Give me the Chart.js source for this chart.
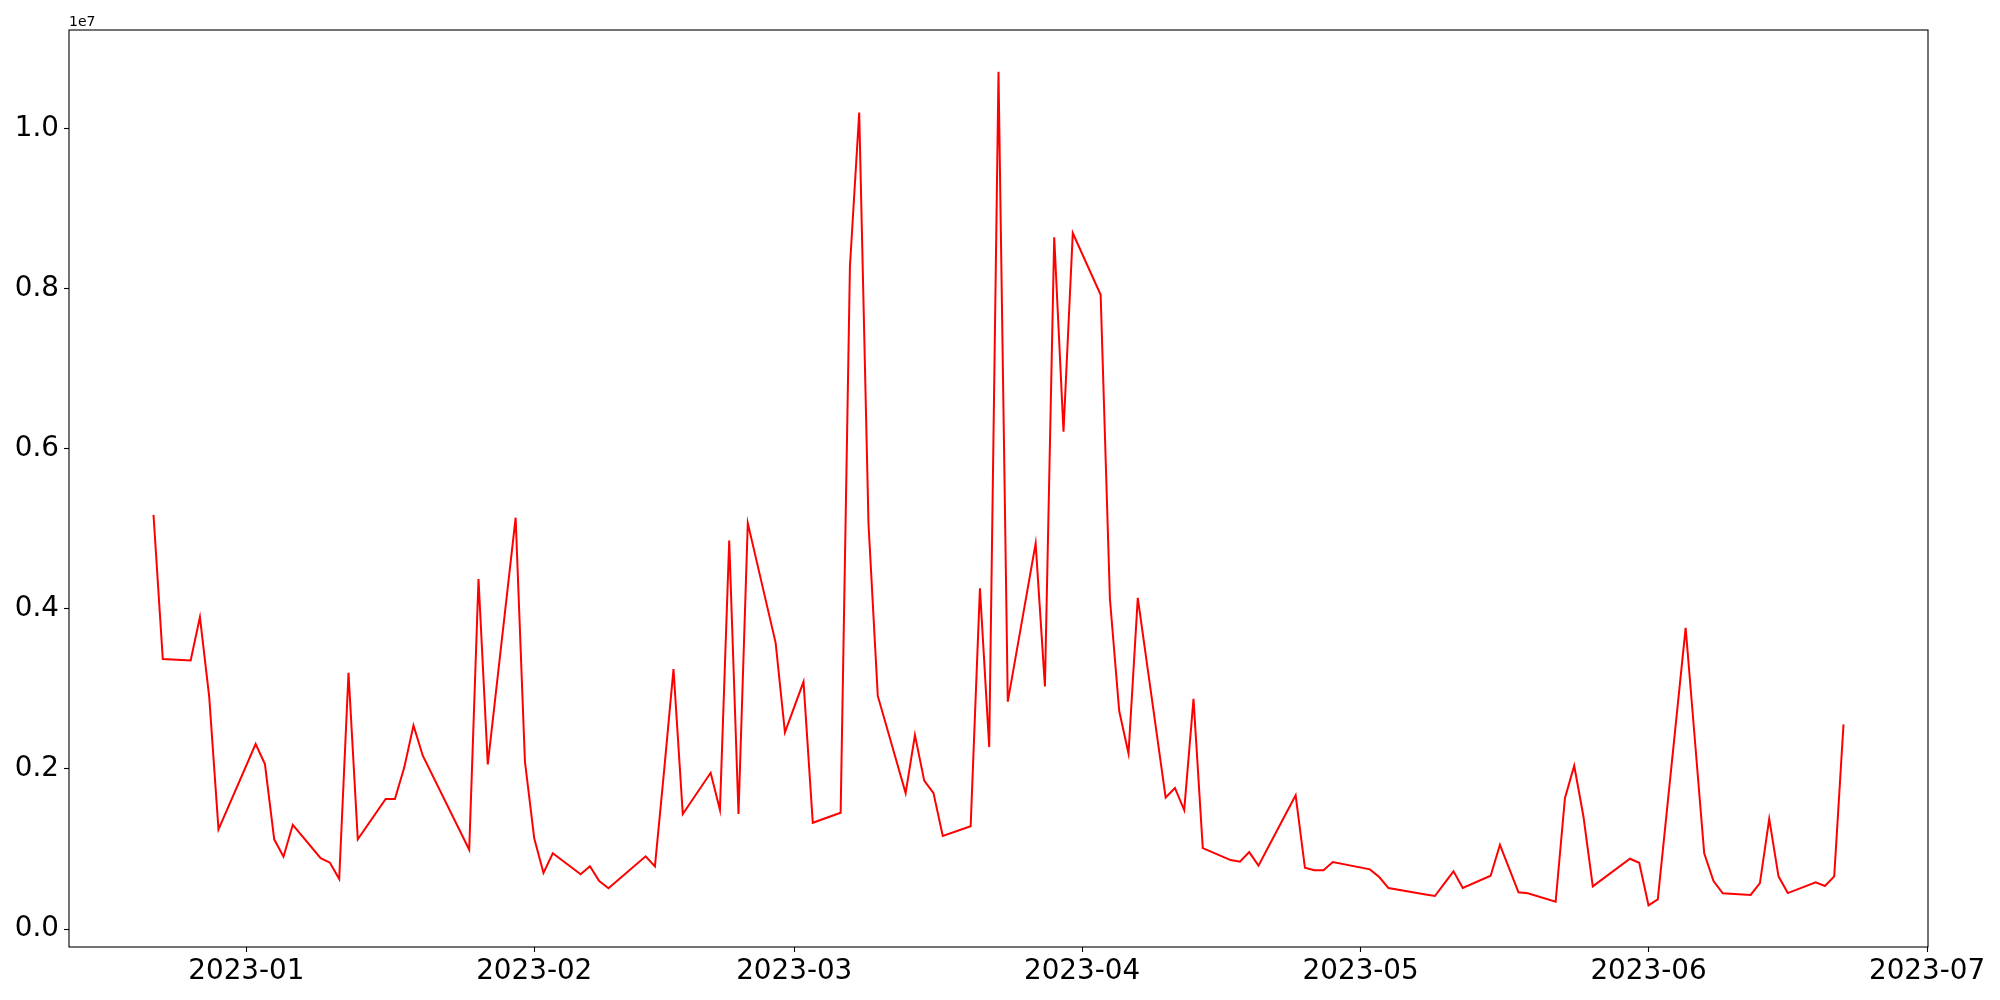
<!DOCTYPE html>
<html><head><meta charset="utf-8">
<script src="https://cdn.jsdelivr.net/npm/chart.js@4.4.0/dist/chart.umd.min.js"></script>
<style>html,body{margin:0;padding:0;background:#fff}#c{display:block}</style>
</head><body>
<canvas id="c" width="2000" height="1000" style="width:2000px;height:1000px"></canvas>
<script>
const dates = [
"2022-12-22","2022-12-23","2022-12-26","2022-12-27","2022-12-28","2022-12-29",
"2023-01-02","2023-01-03","2023-01-04","2023-01-05","2023-01-06",
"2023-01-09","2023-01-10","2023-01-11","2023-01-12","2023-01-13",
"2023-01-16","2023-01-17","2023-01-18","2023-01-19","2023-01-20",
"2023-01-25","2023-01-26","2023-01-27","2023-01-30","2023-01-31",
"2023-02-01","2023-02-02","2023-02-03","2023-02-06","2023-02-07","2023-02-08","2023-02-09","2023-02-10",
"2023-02-13","2023-02-14","2023-02-15","2023-02-16","2023-02-17",
"2023-02-20","2023-02-21","2023-02-22","2023-02-23","2023-02-24",
"2023-02-27","2023-02-28","2023-03-02","2023-03-03",
"2023-03-06","2023-03-07","2023-03-08","2023-03-09","2023-03-10",
"2023-03-13","2023-03-14","2023-03-15","2023-03-16","2023-03-17",
"2023-03-20","2023-03-21","2023-03-22","2023-03-23","2023-03-24",
"2023-03-27","2023-03-28","2023-03-29","2023-03-30","2023-03-31",
"2023-04-03","2023-04-04","2023-04-05","2023-04-06","2023-04-07",
"2023-04-10","2023-04-11","2023-04-12","2023-04-13","2023-04-14",
"2023-04-17","2023-04-18","2023-04-19","2023-04-20","2023-04-21",
"2023-04-24","2023-04-25","2023-04-26","2023-04-27","2023-04-28",
"2023-05-02","2023-05-03","2023-05-04",
"2023-05-08","2023-05-09","2023-05-10","2023-05-11","2023-05-12",
"2023-05-15","2023-05-16","2023-05-17","2023-05-18","2023-05-19",
"2023-05-22","2023-05-23","2023-05-24","2023-05-25","2023-05-26",
"2023-05-30","2023-05-31","2023-06-01","2023-06-02",
"2023-06-05","2023-06-07","2023-06-08","2023-06-09",
"2023-06-12","2023-06-13","2023-06-14","2023-06-15","2023-06-16",
"2023-06-19","2023-06-20","2023-06-21","2023-06-22"
];
const values = [
5172000,3371000,3355000,3895000,2900000,1245000,
2310000,2060000,1120000,903000,1302000,
886000,828000,624000,3200000,1120000,
1624000,1624000,2016000,2542000,2164000,
991000,4371000,2056000,5137000,2092000,
1134000,700000,946000,683000,785000,598000,509000,610000,
908000,783000,1990000,3246000,1436000,
1951000,1489000,4853000,1436000,5069000,
3574000,2456000,3087000,1327000,
1453000,8275000,10197000,5060000,2911000,
1697000,2421000,1853000,1697000,1162000,
1283000,4255000,2272000,10707000,2840000,
4816000,3030000,8640000,6212000,8692000,
7920000,4121000,2722000,2191000,4136000,
1642000,1762000,1486000,2874000,1011000,
861000,840000,961000,792000,1011000,
1669000,765000,733000,733000,836000,
745000,649000,512000,
432000,412000,566000,720000,512000,
665000,1052000,755000,458000,446000,
341000,1635000,2039000,1402000,533000,
878000,828000,296000,371000,
3762000,945000,599000,446000,
425000,574000,1377000,658000,449000,
583000,537000,658000,2556000
];
const monthTickDates = ["2023-01-01","2023-02-01","2023-03-01","2023-04-01","2023-05-01","2023-06-01","2023-07-01"];
const monthTickLabels = ["2023-01","2023-02","2023-03","2023-04","2023-05","2023-06","2023-07"];
const yTickValues = [0, 2000000, 4000000, 6000000, 8000000, 10000000];
const yTickLabels = ["0.0","0.2","0.4","0.6","0.8","1.0"];
const offsetText = "1e7";

const DAY = 86400000;
const origin = Date.UTC(2023,0,1);
function toDay(s){const p=s.split('-').map(Number);return (Date.UTC(p[0],p[1]-1,p[2])-origin)/DAY;}
const pts = dates.map((d,i)=>({x:toDay(d), y:values[i]}));
const xs = pts.map(p=>p.x), ys = values;
const xMin0=Math.min(...xs), xMax0=Math.max(...xs), yMin0=Math.min(...ys), yMax0=Math.max(...ys);
const xr=xMax0-xMin0, yr=yMax0-yMin0;
const xTickVals = monthTickDates.map(toDay);

const FONT = "'DejaVu Sans', sans-serif";

const frame = {
  id:'frame',
  afterDraw(chart){
    const {ctx, chartArea:a} = chart;
    ctx.save();
    ctx.strokeStyle='#000'; ctx.lineWidth=1.1;
    ctx.strokeRect(a.left, a.top, a.right-a.left, a.bottom-a.top);
    ctx.fillStyle='#000'; ctx.font="14px "+FONT; ctx.textAlign='left'; ctx.textBaseline='alphabetic';
    ctx.fillText(offsetText, a.left, a.top-4);
    ctx.restore();
  }
};

new Chart(document.getElementById('c'), {
  type:'line',
  data:{datasets:[{data:pts, borderColor:'#ff0000', borderWidth:2, pointRadius:0, tension:0, fill:false}]},
  options:{
    responsive:false, animation:false, devicePixelRatio:1,
    layout:{padding:{top:30, right:72, left:0, bottom:0}},
    plugins:{legend:{display:false}, tooltip:{enabled:false}},
    scales:{
      x:{type:'linear', min:xMin0-0.05*xr, max:xMax0+0.05*xr,
        afterBuildTicks(s){s.ticks = xTickVals.map(v=>({value:v}));},
        afterFit(s){s.height=53;},
        border:{display:false},
        grid:{drawOnChartArea:false, drawTicks:true, tickLength:5, tickWidth:1.1, tickColor:'#000'},
        ticks:{autoSkip:false, maxRotation:0, minRotation:0, padding:3, color:'#000', font:{family:FONT, size:27.8},
          callback(v){const i=xTickVals.indexOf(v);return i>=0?monthTickLabels[i]:'';}}
      },
      y:{type:'linear', min:yMin0-0.05*yr, max:yMax0+0.05*yr,
        afterBuildTicks(s){s.ticks = yTickValues.map(v=>({value:v}));},
        afterFit(s){s.width=69;},
        border:{display:false},
        grid:{drawOnChartArea:false, drawTicks:true, tickLength:5, tickWidth:1.1, tickColor:'#000'},
        ticks:{padding:5, color:'#000', font:{family:FONT, size:27.8},
          callback(v){const i=yTickValues.indexOf(v);return i>=0?yTickLabels[i]:'';}}
      }
    }
  },
  plugins:[frame]
});
</script>
</body></html>
